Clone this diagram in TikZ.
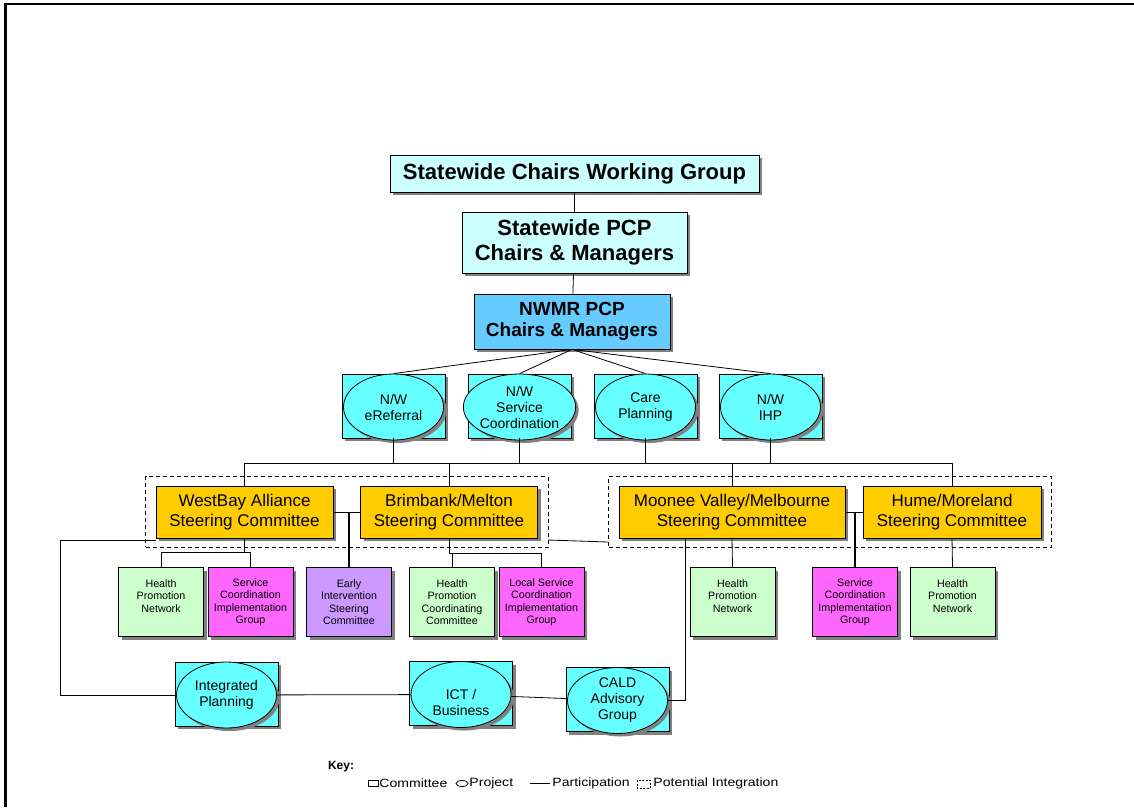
\documentclass[tikz,border=0pt]{standalone}
\usepackage{fontspec}
\setmainfont{Liberation Sans}
\usepackage{xcolor}
\usepackage{tikz}
\usetikzlibrary{shapes.geometric, shadows, fit}
\definecolor{palecyan}{HTML}{CCFFFF}
\definecolor{skyblue}{HTML}{66CCFF}
\definecolor{projcyan}{HTML}{66FFFF}
\definecolor{steergold}{HTML}{FFCC00}
\definecolor{palegreen}{HTML}{CCFFCC}
\definecolor{brightpink}{HTML}{FF66FF}
\definecolor{lilac}{HTML}{CC99FF}
\definecolor{shadowgrey}{HTML}{808080}
\tikzstyle{shadowed} = [drop shadow={shadow xshift=3pt, shadow yshift=-3pt, fill=shadowgrey, opacity=1}]
\tikzstyle{chairs} = [rectangle, draw=black, fill=palecyan, inner sep=0pt, align=center, font=\fontsize{22}{25}\selectfont\bfseries, shadowed]
\tikzstyle{region} = [rectangle, minimum width=196pt, minimum height=55pt, inner sep=0pt, align=center, draw=black, fill=skyblue, font=\fontsize{19}{21}\selectfont\bfseries, shadowed]
\tikzstyle{projbox} = [rectangle, minimum width=103pt, minimum height=64pt, inner sep=0pt, draw=black, fill=projcyan, shadowed]
\tikzstyle{project} = [ellipse, minimum width=100pt, minimum height=66pt, inner sep=0pt, align=center, draw=black, fill=projcyan, font=\fontsize{14}{16}\selectfont, shadowed]
\tikzstyle{steering} = [rectangle, minimum height=52pt, inner sep=0pt, align=center, draw=black, fill=steergold, font=\fontsize{17}{19.5}\selectfont, shadowed]
\tikzstyle{taskgroup} = [rectangle, minimum width=85pt, minimum height=69pt, inner sep=0pt, align=center, draw=black, font=\fontsize{10.7}{12.5}\selectfont, shadowed]
\tikzstyle{potential} = [rectangle, draw=black, dash pattern=on 4pt off 3pt, inner xsep=10pt, inner ysep=9pt]
\tikzstyle{keytext} = [anchor=west, inner sep=0pt, font=\fontsize{12}{14}\selectfont, xscale=1.17, transform shape]

\begin{document}
\begin{tikzpicture}[x=1pt, y=-1pt, line width=0.8pt]
	\useasboundingbox (0,0) rectangle (1134,807);
	\draw [line width=2.5pt] (5.3,807) -- (5.3,3.8) -- (1134,3.8);
	
	\node (swcwg) [chairs, minimum width=369pt, minimum height=37pt] at (574.5,173.5) {Statewide Chairs Working Group};
	\node (swpcp) [chairs, minimum width=225pt, minimum height=61pt] at (574.5,242.5) {Statewide PCP\\Chairs \& Managers};
	\node (nwmr) [region] at (572,321.5) {NWMR PCP\\Chairs \& Managers};
	
	\draw (swcwg) -- (swpcp);
	\draw (swpcp) -- (nwmr);
	
	% regional projects
	\node (erefbox) [projbox] at (393.5,406) {};
	\node (eref) [project] at (393.5,407) {N/W\\eReferral};
	\node (nwscbox) [projbox] at (519.5,406) {};
	\node (nwsc) [project] at (519.5,407) {N/W\\Service\\Coordination};
	\node (carebox) [projbox] at (645.5,406) {};
	\node (care) [project] at (645.5,407) {Care\\Planning};
	\node (ihpbox) [projbox] at (770.5,406) {};
	\node (ihp) [project] at (770.5,407) {N/W\\IHP};
	
	\draw (nwmr.south) -- (erefbox.north);
	\draw (nwmr.south) -- (nwscbox.north);
	\draw (nwmr.south) -- (carebox.north);
	\draw (nwmr.south) -- (ihpbox.north);
	
	% steering committees
	\node (westbay) [steering, minimum width=177pt] at (244.5,512) {WestBay Alliance\\Steering Committee};
	\node (brim) [steering, minimum width=177pt] at (449,512) {Brimbank/Melton\\Steering Committee};
	\node (mv) [steering, minimum width=226pt] at (732,512) {Moonee Valley/Melbourne\\Steering Committee};
	\node (hume) [steering, minimum width=178pt] at (952,512) {Hume/Moreland\\Steering Committee};
	
	\node (westgrp) [potential, fit=(westbay)(brim)] {};
	\node (mvgrp) [potential, fit=(mv)(hume)] {};
	
	\coordinate (bus) at (0,463);
	\draw (westbay.north) |- (hume.north |- bus) -- (hume.north);
	\draw (brim.north) -- (brim.north |- bus);
	\draw (mv.north) -- (mv.north |- bus);
	\draw (erefbox.south) -- (erefbox.south |- bus);
	\draw (nwscbox.south) -- (nwscbox.south |- bus);
	\draw (carebox.south) -- (carebox.south |- bus);
	\draw (ihpbox.south) -- (ihpbox.south |- bus);
	
	% local groups
	\node (hpn1) [taskgroup, fill=palegreen] at (161,602) {Health\\Promotion\\Network\\~};
	\node (scig1) [taskgroup, fill=brightpink] at (250.5,602) {Service\\Coordination\\Implementation\\Group};
	\node (eisc) [taskgroup, fill=lilac] at (349,602) {Early\\Intervention\\Steering\\Committee};
	\node (hpcc) [taskgroup, fill=palegreen] at (452,602) {Health\\Promotion\\Coordinating\\Committee};
	\node (lscig) [taskgroup, fill=brightpink] at (541.5,602) {Local Service\\Coordination\\Implementation\\Group};
	\node (hpn2) [taskgroup, fill=palegreen] at (732.5,602) {Health\\Promotion\\Network\\~};
	\node (scig2) [taskgroup, fill=brightpink] at (855,602) {Service\\Coordination\\Implementation\\Group};
	\node (hpn3) [taskgroup, fill=palegreen] at (952.5,602) {Health\\Promotion\\Network\\~};
	
	\draw (westbay.south) -- (westbay.south |- 0,552);
	\draw (hpn1.north) |- (scig1.north |- 0,552) -- (scig1.north);
	\draw (brim.south) |- (lscig.north |- 0,553) -- (lscig.north);
	\draw (hpcc.north) -- (hpcc.north |- 0,553);
	\draw (westbay) -- (brim);
	\draw [line width=1.2pt] (eisc.north) -- (eisc.north |- westbay);
	\draw (mv) -- (hume);
	\draw [line width=1.2pt] (scig2.north) -- (scig2.north |- mv);
	\draw (mv.south) -- (hpn2.north);
	\draw (hume.south) -- (hpn3.north);
	\draw (westgrp.east |- 0,540) -- (mvgrp.west |- 0,542);
	
	% cross-regional projects
	\node (ipbox) [projbox] at (226.5,694) {};
	\node (ip) [project] at (226.5,695) {Integrated\\Planning};
	\node (ictbox) [projbox] at (461,693.5) {};
	\node (ict) [project, label={[align=center, font=\fontsize{14}{16}\selectfont, yshift=-8pt]center:ICT /\\Business}] at (461,694.5) {};
	\node (caldbox) [projbox] at (617.5,699.5) {};
	\node (cald) [project] at (617.5,700.5) {CALD\\Advisory\\Group};
	
	\coordinate (loop) at (60.5,540);
	\draw (ip.west) -| (loop) -- (loop -| westbay.west);
	\draw (ip) -- (ict);
	\draw (ict) -- (cald);
	\draw (cald.east) -| ([xshift=67pt]mv.south west);
	
	% key
	\node (keyhead) [font=\fontsize{12}{14}\selectfont\bfseries] at (341,767) {Key:};
	\draw (368,780.5) rectangle (378,786.5);
	\node (keycommittee) [keytext] at (379,783.5) {Committee};
	\draw (462,783.5) ellipse (6pt and 3pt);
	\node (keyproject) [keytext] at (469,783.5) {Project};
	\draw (530,783.5) -- (550,783.5);
	\node (keyparticipation) [keytext] at (552,783.5) {Participation};
	\draw [dash pattern=on 2pt off 1.5pt] (637,780) rectangle (650,788);
	\node (keypotential) [keytext] at (653,783.5) {Potential Integration};
	
\end{tikzpicture}
\end{document}
